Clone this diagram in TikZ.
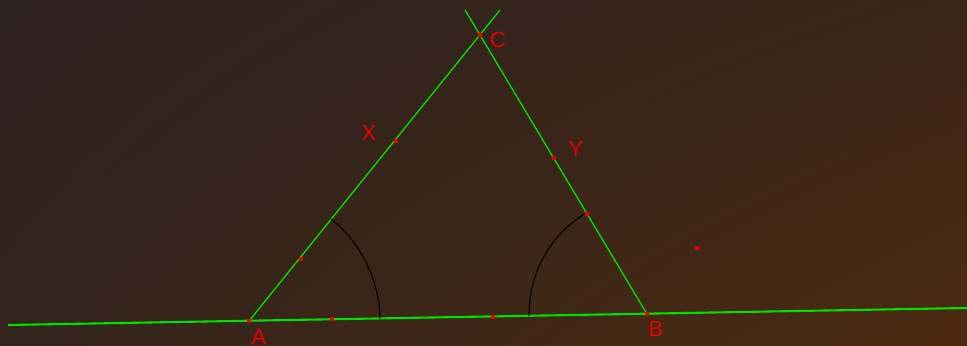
\documentclass[tikz,border=0pt]{standalone}
\usepackage{fontspec}
\setmainfont{Liberation Sans}
\usepackage{tikz}
\usetikzlibrary{calc,shadings}
\usepackage{xcolor}
\definecolor{bgTL}{RGB}{44,34,31}
\definecolor{bgTR}{RGB}{58,37,24}
\definecolor{bgBL}{RGB}{50,36,28}
\definecolor{bgBR}{RGB}{76,42,16}
\definecolor{lineG}{RGB}{0,225,0}
\definecolor{markR}{RGB}{235,0,0}
\tikzset{
  geo/.style={draw=lineG,line width=0.75pt},
  base/.style={draw=lineG,line width=1.2pt},
  angarc/.style={draw=black,line width=0.6pt},
  dot/.style={fill=markR,inner sep=0pt,minimum size=2.4pt},
  lbl/.style={text=markR,font=\fontsize{12.5}{14}\selectfont},
}

\begin{document}
\begin{tikzpicture}[x=0.02cm,y=0.02cm]
\useasboundingbox (0,0) rectangle (967,345);
\shade[upper left=bgTL,upper right=bgTR,lower left=bgBL,lower right=bgBR]
  (0,0) rectangle (967,345);
% points
\coordinate (A) at (249,24);
\coordinate (B) at (647,31);
\coordinate (C) at (480,310);
\coordinate (L) at (8,20);
\coordinate (R) at (967,37);
\coordinate (Ct) at (500,335);
\coordinate (Bt) at (465,335);
% lines
\draw[base] (L) -- (R);
\draw[geo] (A) -- (Ct);
\draw[geo] (B) -- (Bt);
% angle arcs
\draw[angarc] (A) ++(1:131) arc[start angle=1,end angle=51.1,radius=131];
\draw[angarc] (B) ++(181:118) arc[start angle=181,end angle=121,radius=118];
% marked points
\foreach \n/\x/\y in {pA/249/24,pB/647/31,pC/480/310,pX/396/204,pY/554/187,
    p1/301/86,p2/332/26,p3/493/28,p4/587/131,p5/697/97}{
  \node[dot] (\n) at (\x,\y) {};}
% labels
\foreach \n/\x/\y/\t in {lC/498/305/C,lX/369/212/X,lY/576/196/Y,
    lA/259/8/A,lB/656/16/B}{
  \node[lbl] (\n) at (\x,\y) {\t};}
\end{tikzpicture}
\end{document}
